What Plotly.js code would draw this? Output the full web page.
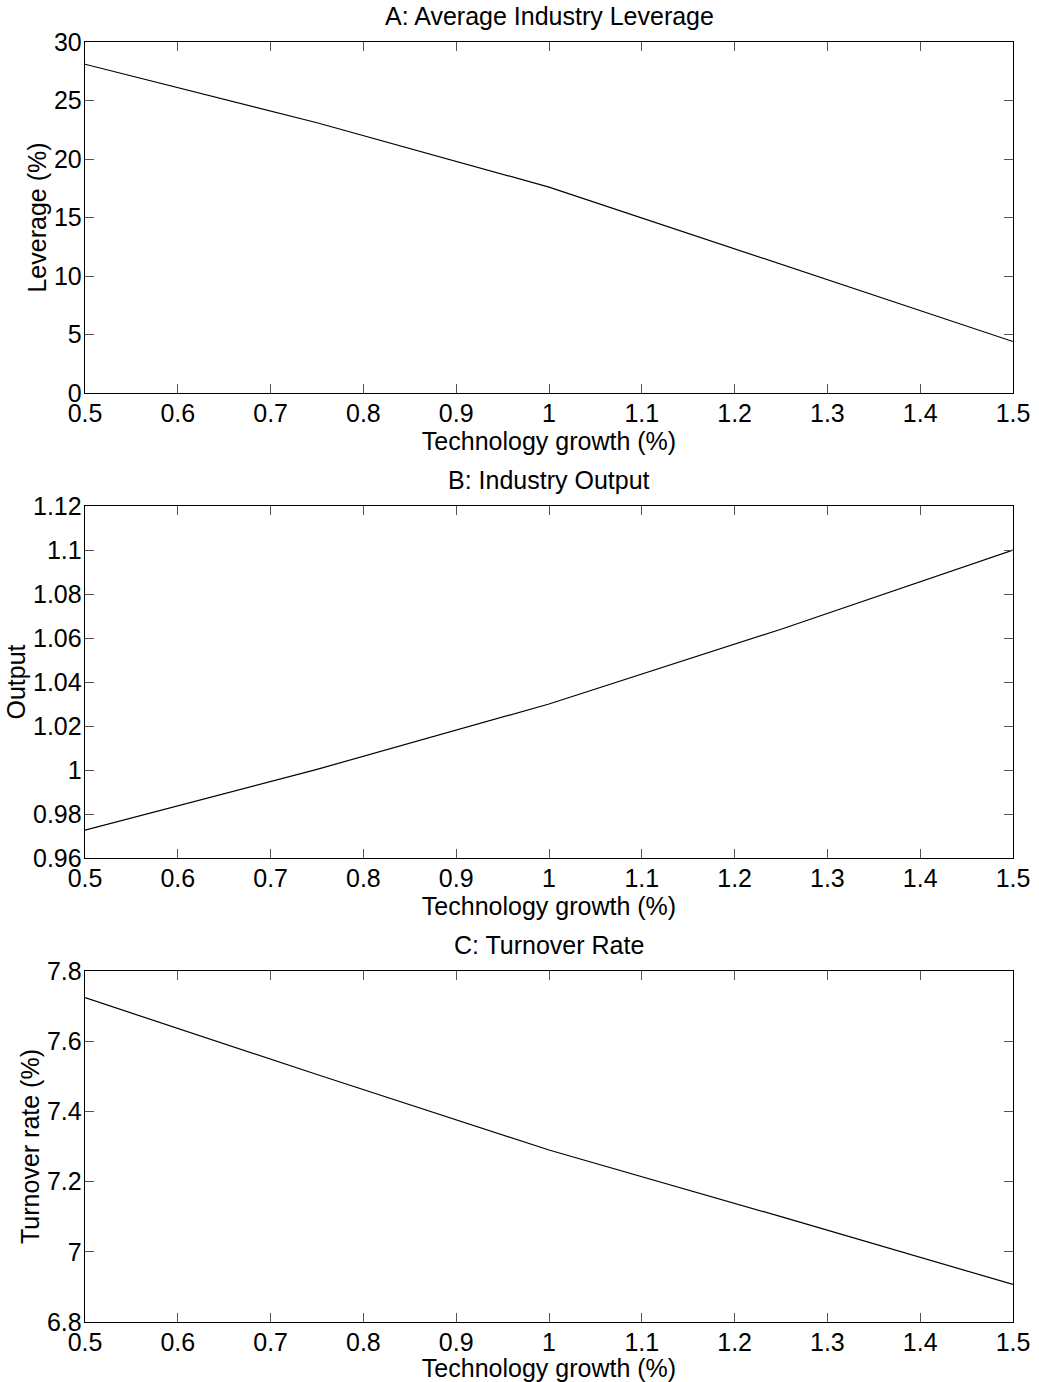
<!DOCTYPE html>
<html>
<head>
<meta charset="utf-8">
<script src="https://cdn.plot.ly/plotly-3.0.1.min.js"></script>
<style>html,body{margin:0;padding:0;background:#fff;}#chart{width:1039px;height:1382px;}</style>
</head>
<body>
<div id="chart"></div>
<script>
// Data
const growth = [0.5, 0.75, 1.0, 1.25, 1.5];
const leverage = [28.1, 23.1, 17.6, 11.0, 4.4];
const output = [0.9727, 1.0003, 1.030, 1.064, 1.100];
const turnover = [7.724, 7.505, 7.290, 7.100, 6.907];

const xTickVals = [0.5, 0.6, 0.7, 0.8, 0.9, 1.0, 1.1, 1.2, 1.3, 1.4, 1.5];
const xTickText = ['0.5','0.6','0.7','0.8','0.9','1','1.1','1.2','1.3','1.4','1.5'];
const levTickVals = [0, 5, 10, 15, 20, 25, 30];
const levTickText = ['0','5','10','15','20','25','30'];
const outTickVals = [0.96, 0.98, 1.0, 1.02, 1.04, 1.06, 1.08, 1.1, 1.12];
const outTickText = ['0.96','0.98','1','1.02','1.04','1.06','1.08','1.1','1.12'];
const turnTickVals = [6.8, 7.0, 7.2, 7.4, 7.6, 7.8];
const turnTickText = ['6.8','7','7.2','7.4','7.6','7.8'];

const titles = ['A: Average Industry Leverage', 'B: Industry Output', 'C: Turnover Rate'];
const yTitles = ['Leverage (%)', 'Output', 'Turnover rate (%)'];
const xTitle = 'Technology growth (%)';

const FONT = 'Liberation Sans, Arial, Helvetica, sans-serif';
const FS = 25;

const lineStyle = {color: '#000', width: 1.2};
const traces = [
  {x: growth, y: leverage, type: 'scatter', mode: 'lines', line: lineStyle, xaxis: 'x', yaxis: 'y'},
  {x: growth, y: output, type: 'scatter', mode: 'lines', line: lineStyle, xaxis: 'x2', yaxis: 'y2'},
  {x: growth, y: turnover, type: 'scatter', mode: 'lines', line: lineStyle, xaxis: 'x3', yaxis: 'y3'}
];

const domains = [[0.72578, 1.0], [0.3625, 0.6375], [0.0, 0.27422]];

function xa(anchor) {
  return {
    anchor: anchor, domain: [0, 1], range: [0.5, 1.5],
    tickmode: 'array', tickvals: xTickVals, ticktext: xTickText,
    ticks: 'inside', ticklen: 9, tickwidth: 1, tickcolor: '#555',
    showline: true, linecolor: '#000', linewidth: 1.3, mirror: 'ticks',
    showgrid: false, zeroline: false,
    tickfont: {family: FONT, size: FS, color: '#000'},
    ticklabelstandoff: -2,
    title: {text: xTitle, font: {family: FONT, size: FS, color: '#000'}, standoff: 0}
  };
}
function ya(anchor, dom, range, vals, text, title) {
  return {
    anchor: anchor, domain: dom, range: range,
    tickmode: 'array', tickvals: vals, ticktext: text,
    ticks: 'inside', ticklen: 9, tickwidth: 1, tickcolor: '#555',
    showline: true, linecolor: '#000', linewidth: 1.3, mirror: 'ticks',
    showgrid: false, zeroline: false,
    tickfont: {family: FONT, size: FS, color: '#000'},
    ticklabelstandoff: -3,
    title: {text: title, font: {family: FONT, size: FS, color: '#000'}, standoff: 0}
  };
}

const layout = {
  width: 1039, height: 1382,
  margin: {l: 85, r: 26, t: 42, b: 60},
  paper_bgcolor: '#fff', plot_bgcolor: '#fff',
  showlegend: false,
  font: {family: FONT, size: FS, color: '#000'},
  xaxis: xa('y'),
  xaxis2: xa('y2'),
  xaxis3: xa('y3'),
  yaxis: ya('x', domains[0], [0, 30], levTickVals, levTickText, yTitles[0]),
  yaxis2: ya('x2', domains[1], [0.96, 1.12], outTickVals, outTickText, yTitles[1]),
  yaxis3: ya('x3', domains[2], [6.8, 7.8], turnTickVals, turnTickText, yTitles[2]),
  annotations: titles.map((t, i) => ({
    text: t, xref: 'paper', yref: 'paper', x: 0.5, y: domains[i][1],
    xanchor: 'center', yanchor: 'bottom', yshift: 10, showarrow: false,
    font: {family: FONT, size: FS, color: '#000'}
  }))
};

Plotly.newPlot('chart', traces, layout, {displayModeBar: false, staticPlot: true});
</script>
</body>
</html>
